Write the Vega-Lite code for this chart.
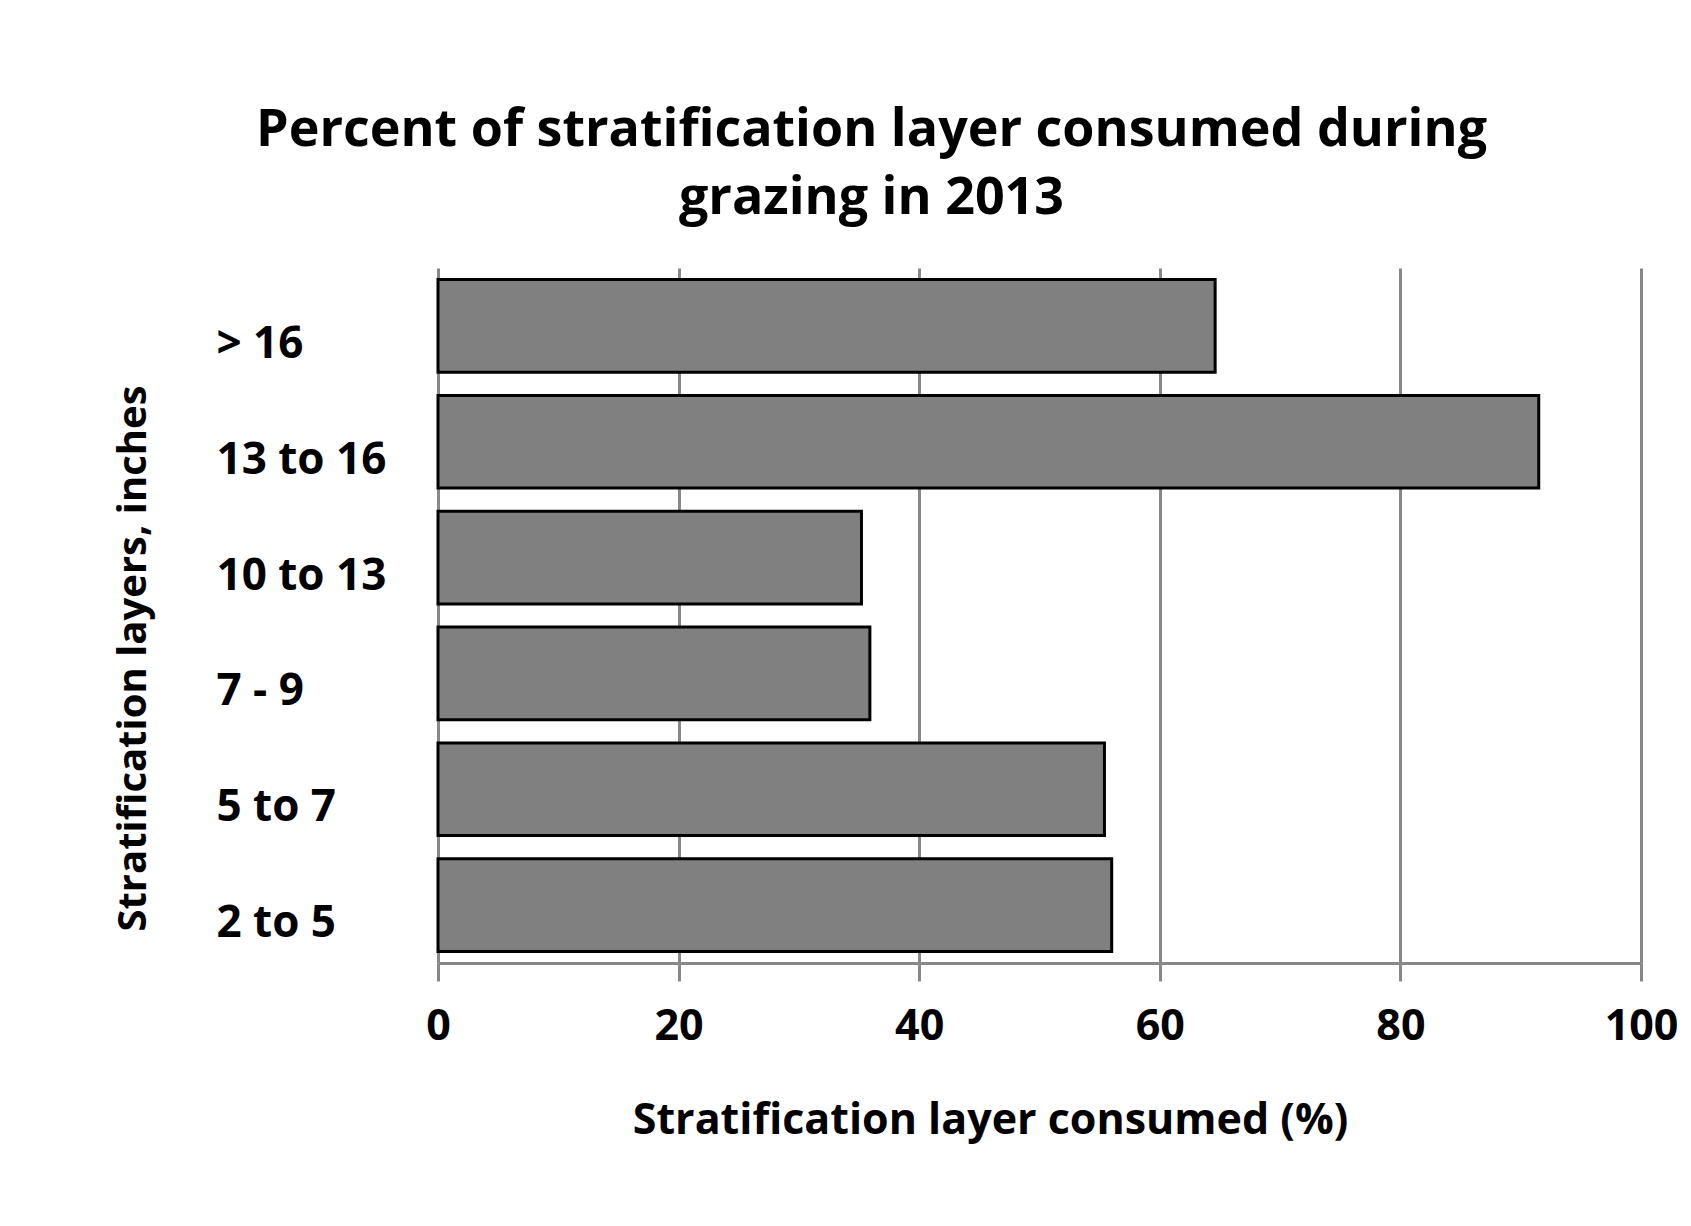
{
  "$schema": "https://vega.github.io/schema/vega-lite/v6.json",
  "autosize": "none",
  "width": 1203,
  "height": 695,
  "padding": {"left": 438, "top": 268, "right": 50, "bottom": 263},
  "background": "white",
  "title": {
    "text": ["Percent of stratification layer consumed during", "grazing in 2013"],
    "font": "Open Sans",
    "fontSize": 52,
    "fontWeight": "bold",
    "color": "black",
    "anchor": "middle",
    "dx": -168,
    "lineHeight": 68,
    "baseline": "bottom",
    "offset": -9
  },
  "data": {
    "values": [
      {"layer": "> 16", "consumed": 64.6},
      {"layer": "13 to 16", "consumed": 91.5},
      {"layer": "10 to 13", "consumed": 35.2},
      {"layer": "7 - 9", "consumed": 35.9},
      {"layer": "5 to 7", "consumed": 55.4},
      {"layer": "2 to 5", "consumed": 56.0}
    ]
  },
  "mark": {"type": "bar", "fill": "#808080", "stroke": "black", "strokeWidth": 3},
  "encoding": {
    "y": {
      "field": "layer",
      "type": "nominal",
      "sort": null,
      "scale": {"paddingInner": 0.2, "paddingOuter": 0.1},
      "axis": {
        "title": "Stratification layers, inches",
        "domain": false,
        "ticks": false,
        "tickSize": 0,
        "labelAlign": "left",
        "labelBaseline": "middle",
        "labelPadding": 222,
        "labelOffset": 19,
        "labelFont": "Open Sans",
        "labelFontSize": 44,
        "labelFontWeight": "bold",
        "labelColor": "black",
        "titleFont": "Open Sans",
        "titleFontSize": 40,
        "titleFontWeight": "bold",
        "titleColor": "black",
        "titleX": -305,
        "titleY": 390,
        "titleAngle": 270,
        "titleBaseline": "middle",
        "titleAlign": "center"
      }
    },
    "x": {
      "field": "consumed",
      "type": "quantitative",
      "scale": {"domain": [0, 100], "nice": false},
      "axis": {
        "title": "Stratification layer consumed (%)",
        "values": [0, 20, 40, 60, 80, 100],
        "grid": true,
        "gridColor": "#888888",
        "gridWidth": 3,
        "domainColor": "#888888",
        "domainWidth": 3,
        "tickColor": "#888888",
        "tickWidth": 3,
        "tickSize": 18,
        "labelFlush": false,
        "labelFont": "Open Sans",
        "labelFontSize": 43,
        "labelFontWeight": "bold",
        "labelColor": "black",
        "labelBaseline": "alphabetic",
        "labelPadding": 58,
        "titleFont": "Open Sans",
        "titleFontSize": 43,
        "titleFontWeight": "bold",
        "titleColor": "black",
        "titleX": 552,
        "titleY": 170,
        "titleBaseline": "alphabetic",
        "titleAlign": "center"
      }
    }
  },
  "config": {"view": {"stroke": null}}
}
